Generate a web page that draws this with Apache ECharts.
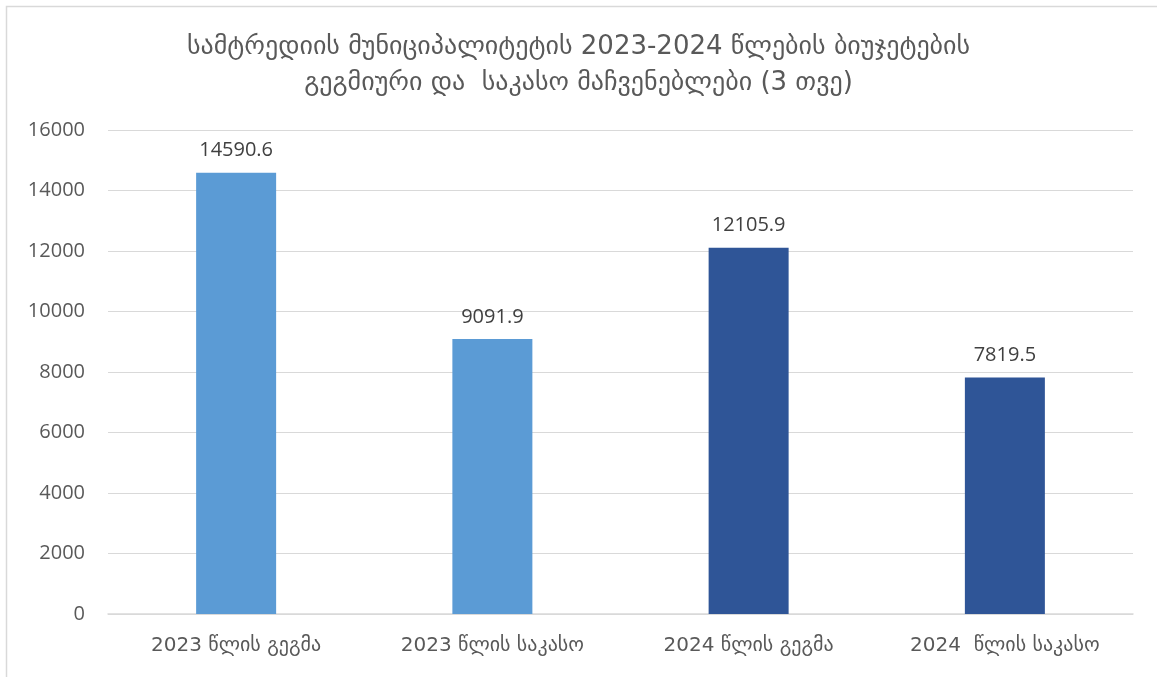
<!DOCTYPE html>
<html><head><meta charset="utf-8">
<script src="https://cdn.jsdelivr.net/npm/echarts@6/dist/echarts.min.js"></script>
<style>html,body{margin:0;padding:0;background:#fff}#c{width:1157px;height:677px}</style>
</head><body><div id="c"></div>
<script>
const categories = ['2023 წლის გეგმა', '2023 წლის საკასო', '2024 წლის გეგმა', '2024  წლის საკასო'];
const values = [14590.6, 9091.9, 12105.9, 7819.5];
const barColors = ['#5B9BD5', '#5B9BD5', '#2F5597', '#2F5597'];
const titleText = 'სამტრედიის მუნიციპალიტეტის 2023-2024 წლების ბიუჯეტების\nგეგმიური და  საკასო მაჩვენებლები (3 თვე)';
const font = '"DejaVu Sans", "Noto Sans", sans-serif';

const chart = echarts.init(document.getElementById('c'));
chart.setOption({
  animation: false,
  title: {
    text: titleText, left: 'center', top: 24,
    textStyle: { fontFamily: font, fontSize: 26, fontWeight: 'normal', color: '#595959', lineHeight: 36 }
  },
  graphic: [{ type: 'rect', shape: { x: 6.5, y: 6.5, width: 1200, height: 700 },
    style: { fill: 'none', stroke: '#d9d9d9', lineWidth: 1.5 }, silent: true }],
  grid: { left: 108, right: 24, top: 130, bottom: 63 },
  xAxis: {
    type: 'category', data: categories,
    axisLine: { lineStyle: { color: '#d9d9d9', width: 1.5 } },
    axisTick: { show: false },
    axisLabel: { interval: 0, fontFamily: font, fontSize: 20, color: '#595959', margin: 22 }
  },
  yAxis: {
    type: 'value', min: 0, max: 16000, interval: 2000,
    axisLine: { show: false }, axisTick: { show: false },
    splitLine: { lineStyle: { color: '#d9d9d9', width: 1.2 } },
    axisLabel: { fontFamily: '"Open Sans", "DejaVu Sans", sans-serif', fontSize: 20, color: '#595959', margin: 23,
      formatter: v => String(v) }
  },
  series: [{
    type: 'bar', barWidth: 80,
    data: values.map((v, i) => ({ value: v, itemStyle: { color: barColors[i] } })),
    label: { show: true, position: 'top', distance: 12, fontFamily: '"Open Sans", "DejaVu Sans", sans-serif', fontSize: 20, color: '#404040' }
  }]
});
</script></body></html>
